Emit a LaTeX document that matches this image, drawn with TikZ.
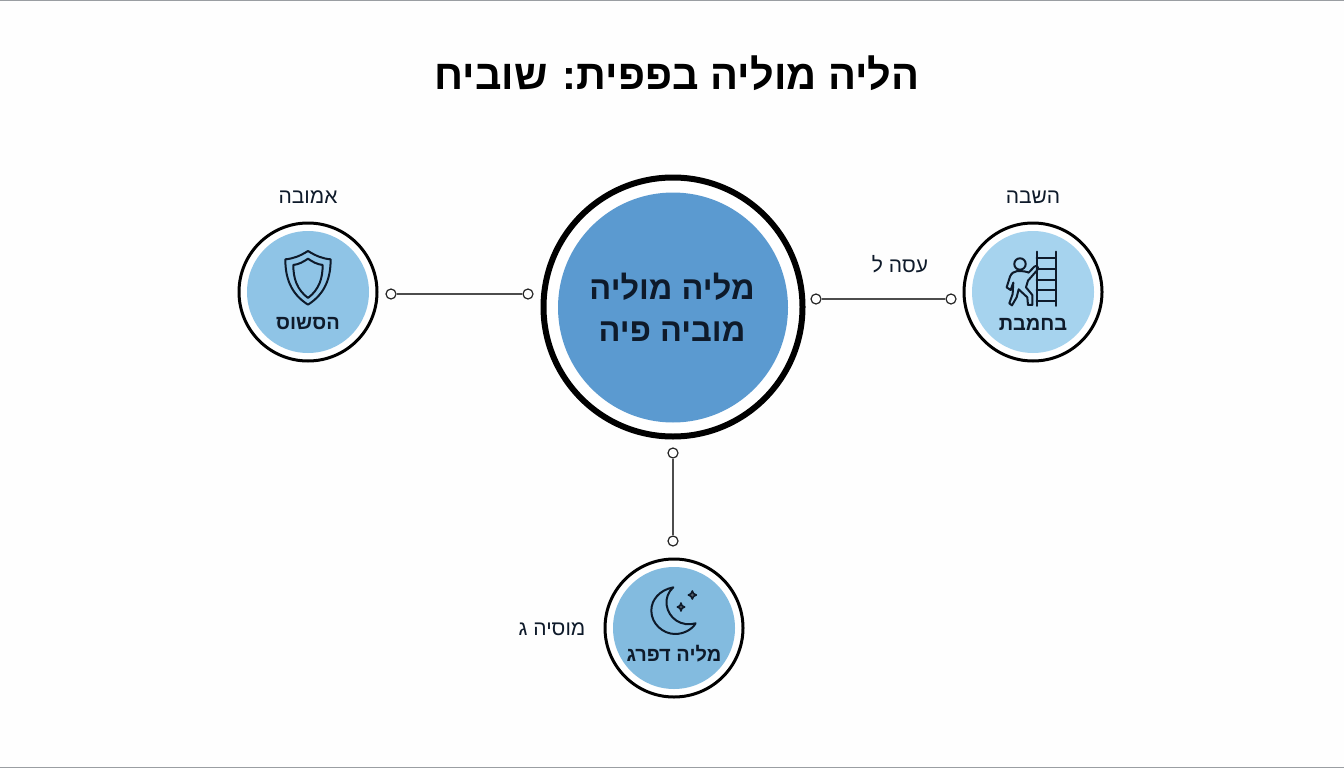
\documentclass[tikz,border=0pt]{standalone}
\usepackage{fontspec}
\TeXXeTstate=1
\newfontfamily\hebfont[Script=Hebrew]{Liberation Sans}
\definecolor{bigblue}{HTML}{5B9AD0}
\definecolor{leftblue}{HTML}{8FC4E6}
\definecolor{rightblue}{HTML}{A6D3EE}
\definecolor{lowblue}{HTML}{83BBDF}
\definecolor{ink}{HTML}{0E1A2A}
\definecolor{edgegray}{HTML}{9A9EA2}
\definecolor{paper}{HTML}{FEFEFE}
\newcommand{\heb}[1]{\beginR #1\endR}
\tikzset{
  x=1pt,y=-1pt,
  ring/.style={circle,draw=black,fill=white,line width=3pt,minimum size=138pt,inner sep=0pt},
  bigring/.style={circle,draw=black,fill=white,line width=6pt,minimum size=259pt,inner sep=0pt},
  disc/.style={circle,minimum size=122pt,inner sep=0pt},
  bigdisc/.style={circle,fill=bigblue,minimum size=230pt,inner sep=0pt},
  dot/.style={circle,draw=black!85,fill=white,line width=1.2pt,minimum size=10pt,inner sep=0pt},
  link/.style={draw=black!70,line width=1.1pt},
  icon/.style={draw=ink,line width=2pt,line join=round,line cap=round},
  label/.style={font=\hebfont\fontsize{21}{23}\selectfont,text=ink,inner sep=0pt},
  inlabel/.style={font=\hebfont\fontsize{20}{22}\selectfont\bfseries,text=ink,inner sep=0pt}
}
\begin{document}
\begin{tikzpicture}
\useasboundingbox (0,0) rectangle (1344,768);
\fill[paper] (0,0) rectangle (1344,768);
\draw[edgegray,line width=0.8pt] (0,0.4) -- (1344,0.4) (0,767.6) -- (1344,767.6);
\node[font=\hebfont\fontsize{41.5}{46}\selectfont\bfseries,text=black,inner sep=0pt] (title) at (677,73) {\heb{הליה מוליה בפפית: שוביח}};
% centre
\node[bigring] (hub) at (673,307) {};
\node[bigdisc] (hubdisc) at (673,307.5) {};
\node[align=center,font=\hebfont\fontsize{32.5}{42}\selectfont\bfseries,text=ink,inner sep=0pt] (hubtext) at (672,307) {\heb{מליה מוליה}\\[0pt]\heb{מוביה פיה}};
% left
\node[ring] (lring) at (308,292) {};
\node[disc,fill=leftblue] (ldisc) at (308,292) {};
\node[inlabel] (ltext) at (308,324) {\heb{הסשוס}};
\node[label] (lcap) at (308,197.5) {\heb{אמובה}};
% right
\node[ring] (rring) at (1033,292) {};
\node[disc,fill=rightblue] (rdisc) at (1033,292) {};
\node[inlabel] (rtext) at (1033,324) {\heb{בחמבת}};
\node[label] (rcap) at (1033,197.5) {\heb{השבה}};
\node[label] (rlink) at (900,264.5) {\heb{עסה ל}};
% bottom
\node[ring] (bring) at (674,628) {};
\node[disc,fill=lowblue] (bdisc) at (674,628) {};
\node[inlabel] (btext) at (674,654) {\heb{מליה דפרג}};
\node[label] (bcap) at (552,629) {\heb{מוסיה ג}};
% connectors
\node[dot] (l1) at (391,294) {};
\node[dot] (l2) at (528,294) {};
\node[dot] (r1) at (816,299) {};
\node[dot] (r2) at (951,299) {};
\node[dot] (b1) at (673,453) {};
\node[dot] (b2) at (673,541) {};
\draw[link] (l1) -- (l2);
\draw[link] (r1) -- (r2);
\draw[link] (b1) -- (b2);
% shield
\begin{scope}[shift={(220,170)},x=0.3333pt,y=-0.3333pt,icon]
\draw (264,243) .. controls (240,258) and (220,266) .. (196,268) .. controls (196,320) and (210,370) .. (264,404) .. controls (318,370) and (332,320) .. (332,268) .. controls (308,266) and (288,258) .. (264,243) -- cycle;
\draw (264,266) .. controls (250,276) and (236,283) .. (220,285) .. controls (220,325) and (230,358) .. (264,384) .. controls (298,358) and (308,325) .. (308,285) .. controls (292,283) and (278,276) .. (264,266) -- cycle;
\end{scope}
% climber and ladder
\begin{scope}[shift={(800,170)},x=0.3333pt,y=-0.3333pt,icon]
\draw (710,245) -- (710,408) (768,245) -- (768,408);
\foreach \yy in {265,297,329,361,393} \draw (710,\yy) -- (768,\yy);
\draw (660,282) circle[radius=5.7pt];
\draw (652,303) .. controls (670,303) and (680,305) .. (686,308) -- (703,290) .. controls (710,284) and (718,292) .. (712,300) -- (684,332) -- (678,352) -- (697,375) -- (697,405) -- (684,405) -- (682,382) -- (656,358) -- (650,382) -- (636,406) -- (628,400) -- (638,372) -- (640,338) -- (632,360) -- (620,352) -- (630,320) .. controls (634,310) and (642,304) .. (652,303) -- cycle;
\end{scope}
% moon and stars
\begin{scope}[shift={(500,540)},x=0.3333pt,y=-0.3333pt,icon]
\draw (520,142) .. controls (478,150) and (454,180) .. (454,212) .. controls (454,252) and (490,282) .. (525,282) .. controls (550,282) and (575,270) .. (587,250) .. controls (545,262) and (505,235) .. (500,195) .. controls (497,175) and (505,155) .. (520,142) -- cycle;
\draw[line width=1.6pt,fill=ink!70] (577,153) -- (581,161) -- (589,165) -- (581,169) -- (577,177) -- (573,169) -- (565,165) -- (573,161) -- cycle;
\draw[line width=1.6pt,fill=ink!70] (543,189) -- (546,197) -- (554,201) -- (546,205) -- (543,213) -- (540,205) -- (532,201) -- (540,197) -- cycle;
\end{scope}
\end{tikzpicture}
\end{document}
